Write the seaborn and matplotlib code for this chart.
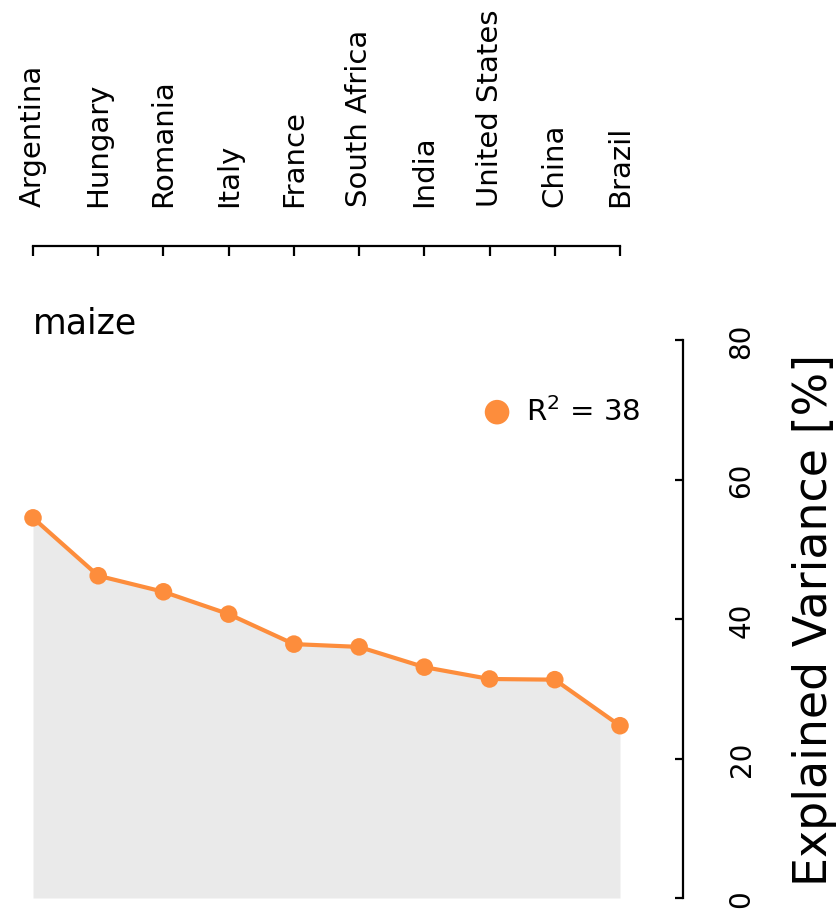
import numpy as np
import pandas as pd
import matplotlib
matplotlib.use("Agg")
import matplotlib.pyplot as plt
import seaborn as sns

countries = ["Argentina", "Hungary", "Romania", "Italy", "France",
             "South Africa", "India", "United States", "China", "Brazil"]
explained = [54.5, 46.2, 43.9, 40.7, 36.4, 36.0, 33.1, 31.4, 31.3, 24.7]
yticks = [0, 20, 40, 60, 80]
crop = "maize"
r2_value = 38

sns.set_style("white")
plt.rcParams['font.family'] = ['DejaVu Sans']
plt.rcParams['text.color'] = 'black'
plt.rcParams['axes.labelcolor'] = 'black'
plt.rcParams['xtick.color'] = 'black'
plt.rcParams['ytick.color'] = 'black'

df = pd.DataFrame({"pos": np.arange(len(countries)), "country": countries,
                   "value": explained})

orange = "#fd8d3c"
fig = plt.figure(figsize=(8.36, 9.12), dpi=100)
ax = fig.add_axes([33/836, 13/912, 587/836, 558/912])

ax.fill_between(df["pos"], 0, df["value"], color="#eaeaea", lw=0, zorder=1)
sns.lineplot(data=df, x="pos", y="value", color=orange, lw=3, ax=ax, zorder=2)
sns.scatterplot(data=df, x="pos", y="value", color=orange, s=160,
                edgecolor="none", ax=ax, zorder=3, clip_on=False,
                label=f"R$^2$ = {r2_value}")

ax.set_xlim(0, len(countries) - 1)
ax.set_ylim(0, 80)
ax.set_xticks(df["pos"])
ax.set_xticklabels(countries)
ax.set_yticks(yticks)

for s in ["left", "bottom"]:
    ax.spines[s].set_visible(False)
for s in ["top", "right"]:
    ax.spines[s].set_visible(True)
    ax.spines[s].set_linewidth(1.6)
    ax.spines[s].set_color("black")
ax.spines["top"].set_position(("outward", 67.7))
ax.spines["right"].set_position(("outward", 45.4))

ax.xaxis.tick_top()
ax.xaxis.set_label_position("top")
ax.yaxis.tick_right()
ax.yaxis.set_label_position("right")
ax.tick_params(axis="x", direction="in", length=7, width=1.6, pad=29,
               labelsize=21, labelrotation=90, bottom=False, top=True)
ax.tick_params(axis="y", direction="in", length=6, width=1.6, pad=32,
               labelsize=20, labelrotation=90, left=False, right=True)
for lab in ax.get_yticklabels():
    lab.set_verticalalignment("center")

ax.set_xlabel("")
ax.set_ylabel("Explained Variance [%]", fontsize=33, labelpad=26)

ax.text(0, 1.0, crop, transform=ax.transAxes, ha="left", va="bottom",
        fontsize=25)

ax.legend(loc="center left", bbox_to_anchor=(0.721, 0.873), frameon=False,
          fontsize=21, handlelength=1.0, handletextpad=0.5, markerscale=1.4)

fig.savefig("out.png", dpi=100)
